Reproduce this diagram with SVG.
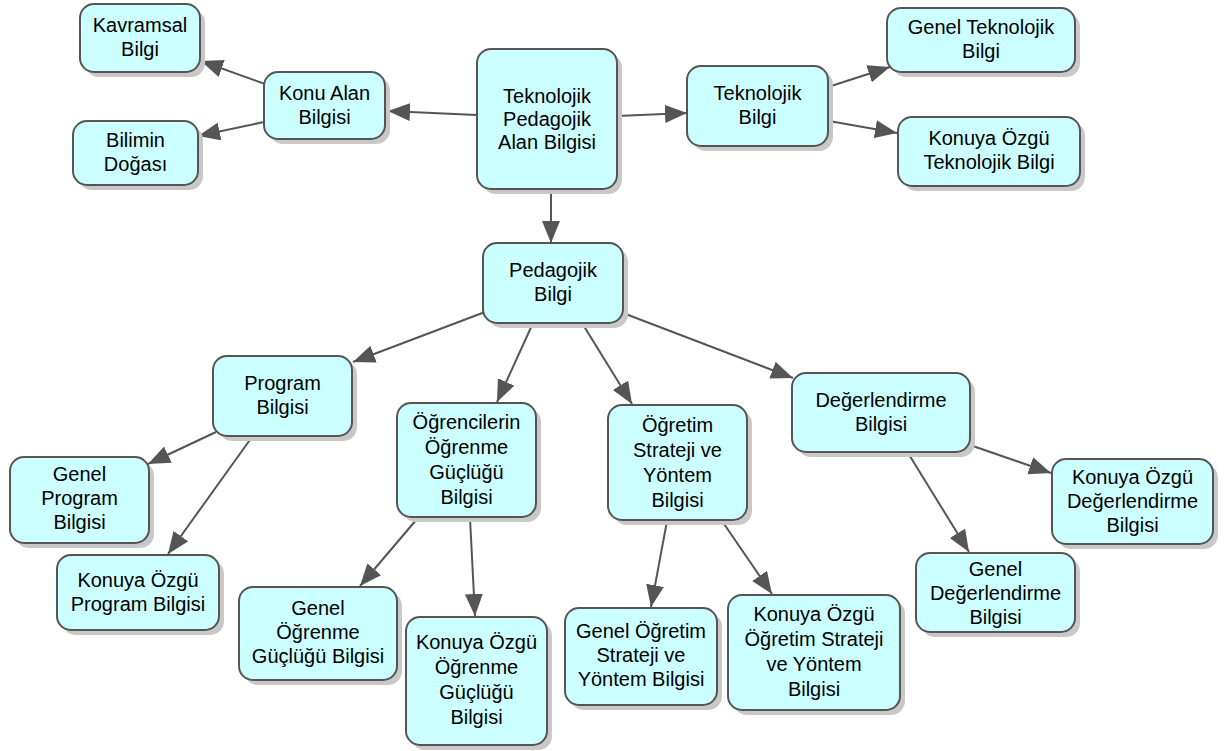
<svg xmlns="http://www.w3.org/2000/svg" width="1224" height="751" viewBox="0 0 1224 751">
  <defs>
    <style>
      .box { fill: #CCFFFF; stroke: #555555; stroke-width: 2; }
      .shadow { fill: #c8c8c8; }
      .lbl { font-family: "Liberation Sans", Arial, sans-serif; font-size: 20px; fill: #000000; text-anchor: middle; }
      .edge { stroke: #555555; stroke-width: 2; fill: none; marker-end: url(#arrow); }
    </style>
    <marker id="arrow" markerUnits="userSpaceOnUse" markerWidth="23" markerHeight="19" refX="22" refY="9" orient="auto">
      <path d="M0,0 L22,9 L0,18 Z" fill="#555555"/>
    </marker>
  </defs>
  <rect width="1224" height="751" fill="#ffffff"/>

  <!-- connectors -->
  <g id="connectors">
    <line class="edge" x1="477" y1="115" x2="388" y2="111"/>
    <line class="edge" x1="265" y1="84" x2="201" y2="61"/>
    <line class="edge" x1="264" y1="122" x2="198" y2="136"/>
    <line class="edge" x1="617" y1="116" x2="687" y2="113"/>
    <line class="edge" x1="828" y1="87" x2="890" y2="67"/>
    <line class="edge" x1="829" y1="121" x2="897" y2="133"/>
    <line class="edge" x1="551" y1="189" x2="551" y2="243"/>
    <line class="edge" x1="485" y1="312" x2="353" y2="362"/>
    <line class="edge" x1="533" y1="323" x2="497" y2="402"/>
    <line class="edge" x1="582" y1="323" x2="632" y2="404"/>
    <line class="edge" x1="623" y1="313" x2="793" y2="378"/>
    <line class="edge" x1="216" y1="432" x2="148" y2="464"/>
    <line class="edge" x1="252" y1="437" x2="168" y2="554"/>
    <line class="edge" x1="417" y1="519" x2="360" y2="586"/>
    <line class="edge" x1="470" y1="518" x2="475" y2="616"/>
    <line class="edge" x1="667" y1="521" x2="651" y2="607"/>
    <line class="edge" x1="722" y1="521" x2="772" y2="594"/>
    <line class="edge" x1="970" y1="445" x2="1051" y2="473"/>
    <line class="edge" x1="908" y1="453" x2="969" y2="552"/>
  </g>

  <!-- nodes -->
  <g id="tpab">
    <rect class="shadow" x="482" y="54" width="140" height="140" rx="14"/>
    <rect class="box" x="477" y="49" width="140" height="140" rx="14"/>
    <text class="lbl"><tspan x="547" y="103">Teknolojik</tspan><tspan x="547" y="126">Pedagojik</tspan><tspan x="547" y="149">Alan Bilgisi</tspan></text>
  </g>
  <g id="konu-alan">
    <rect class="shadow" x="269" y="77" width="121" height="67" rx="14"/>
    <rect class="box" x="264" y="72" width="121" height="67" rx="14"/>
    <text class="lbl"><tspan x="324.5" y="100">Konu Alan</tspan><tspan x="324.5" y="124">Bilgisi</tspan></text>
  </g>
  <g id="kavramsal">
    <rect class="shadow" x="85" y="9" width="120" height="68" rx="14"/>
    <rect class="box" x="80" y="4" width="120" height="68" rx="14"/>
    <text class="lbl"><tspan x="140" y="32">Kavramsal</tspan><tspan x="140" y="56">Bilgi</tspan></text>
  </g>
  <g id="bilimin">
    <rect class="shadow" x="78" y="126" width="125" height="64" rx="14"/>
    <rect class="box" x="73" y="121" width="125" height="64" rx="14"/>
    <text class="lbl"><tspan x="135.5" y="147">Bilimin</tspan><tspan x="135.5" y="171">Doğası</tspan></text>
  </g>
  <g id="teknolojik">
    <rect class="shadow" x="692" y="71" width="141" height="80" rx="14"/>
    <rect class="box" x="687" y="66" width="141" height="80" rx="14"/>
    <text class="lbl"><tspan x="757.5" y="100">Teknolojik</tspan><tspan x="757.5" y="124">Bilgi</tspan></text>
  </g>
  <g id="genel-teknolojik">
    <rect class="shadow" x="892" y="13" width="188" height="64" rx="14"/>
    <rect class="box" x="887" y="8" width="188" height="64" rx="14"/>
    <text class="lbl"><tspan x="981" y="34">Genel Teknolojik</tspan><tspan x="981" y="58">Bilgi</tspan></text>
  </g>
  <g id="ozgu-teknolojik">
    <rect class="shadow" x="903" y="122" width="182" height="69" rx="14"/>
    <rect class="box" x="898" y="117" width="182" height="69" rx="14"/>
    <text class="lbl"><tspan x="989" y="145">Konuya Özgü</tspan><tspan x="989" y="169">Teknolojik Bilgi</tspan></text>
  </g>
  <g id="pedagojik">
    <rect class="shadow" x="488" y="248" width="140" height="80" rx="14"/>
    <rect class="box" x="483" y="243" width="140" height="80" rx="14"/>
    <text class="lbl"><tspan x="553" y="277">Pedagojik</tspan><tspan x="553" y="301">Bilgi</tspan></text>
  </g>
  <g id="program">
    <rect class="shadow" x="218" y="361" width="139" height="80" rx="14"/>
    <rect class="box" x="213" y="356" width="139" height="80" rx="14"/>
    <text class="lbl"><tspan x="282.5" y="390">Program</tspan><tspan x="282.5" y="414">Bilgisi</tspan></text>
  </g>
  <g id="ogrenme-guclugu">
    <rect class="shadow" x="402" y="408" width="139" height="114" rx="14"/>
    <rect class="box" x="397" y="403" width="139" height="114" rx="14"/>
    <text class="lbl"><tspan x="466.5" y="429">Öğrencilerin</tspan><tspan x="466.5" y="454">Öğrenme</tspan><tspan x="466.5" y="479">Güçlüğü</tspan><tspan x="466.5" y="504">Bilgisi</tspan></text>
  </g>
  <g id="ogretim-strateji">
    <rect class="shadow" x="613" y="410" width="139" height="115" rx="14"/>
    <rect class="box" x="608" y="405" width="139" height="115" rx="14"/>
    <text class="lbl"><tspan x="677.5" y="432">Öğretim</tspan><tspan x="677.5" y="457">Strateji ve</tspan><tspan x="677.5" y="482">Yöntem</tspan><tspan x="677.5" y="507">Bilgisi</tspan></text>
  </g>
  <g id="degerlendirme">
    <rect class="shadow" x="797" y="378" width="178" height="79" rx="14"/>
    <rect class="box" x="792" y="373" width="178" height="79" rx="14"/>
    <text class="lbl"><tspan x="881" y="407">Değerlendirme</tspan><tspan x="881" y="431">Bilgisi</tspan></text>
  </g>
  <g id="genel-program">
    <rect class="shadow" x="15" y="462" width="139" height="86" rx="14"/>
    <rect class="box" x="10" y="457" width="139" height="86" rx="14"/>
    <text class="lbl"><tspan x="79.5" y="481">Genel</tspan><tspan x="79.5" y="505">Program</tspan><tspan x="79.5" y="529">Bilgisi</tspan></text>
  </g>
  <g id="ozgu-program">
    <rect class="shadow" x="62" y="560" width="162" height="75" rx="14"/>
    <rect class="box" x="57" y="555" width="162" height="75" rx="14"/>
    <text class="lbl"><tspan x="138" y="587">Konuya Özgü</tspan><tspan x="138" y="611">Program Bilgisi</tspan></text>
  </g>
  <g id="genel-ogrenme">
    <rect class="shadow" x="244" y="592" width="158" height="93" rx="14"/>
    <rect class="box" x="239" y="587" width="158" height="93" rx="14"/>
    <text class="lbl"><tspan x="318" y="615">Genel</tspan><tspan x="318" y="639">Öğrenme</tspan><tspan x="318" y="663">Güçlüğü Bilgisi</tspan></text>
  </g>
  <g id="ozgu-ogrenme">
    <rect class="shadow" x="411" y="622" width="141" height="128" rx="14"/>
    <rect class="box" x="406" y="617" width="141" height="128" rx="14"/>
    <text class="lbl"><tspan x="476.5" y="649">Konuya Özgü</tspan><tspan x="476.5" y="674">Öğrenme</tspan><tspan x="476.5" y="699">Güçlüğü</tspan><tspan x="476.5" y="724">Bilgisi</tspan></text>
  </g>
  <g id="genel-ogretim">
    <rect class="shadow" x="570" y="613" width="152" height="97" rx="14"/>
    <rect class="box" x="565" y="608" width="152" height="97" rx="14"/>
    <text class="lbl"><tspan x="641" y="638">Genel Öğretim</tspan><tspan x="641" y="662">Strateji ve</tspan><tspan x="641" y="686">Yöntem Bilgisi</tspan></text>
  </g>
  <g id="ozgu-ogretim">
    <rect class="shadow" x="733" y="600" width="172" height="115" rx="14"/>
    <rect class="box" x="728" y="595" width="172" height="115" rx="14"/>
    <text class="lbl"><tspan x="814" y="621">Konuya Özgü</tspan><tspan x="814" y="646">Öğretim Strateji</tspan><tspan x="814" y="671">ve Yöntem</tspan><tspan x="814" y="696">Bilgisi</tspan></text>
  </g>
  <g id="ozgu-degerlendirme">
    <rect class="shadow" x="1057" y="464" width="161" height="85" rx="14"/>
    <rect class="box" x="1052" y="459" width="161" height="85" rx="14"/>
    <text class="lbl"><tspan x="1132.5" y="484">Konuya Özgü</tspan><tspan x="1132.5" y="508">Değerlendirme</tspan><tspan x="1132.5" y="532">Bilgisi</tspan></text>
  </g>
  <g id="genel-degerlendirme">
    <rect class="shadow" x="921" y="558" width="159" height="79" rx="14"/>
    <rect class="box" x="916" y="553" width="159" height="79" rx="14"/>
    <text class="lbl"><tspan x="995.5" y="576">Genel</tspan><tspan x="995.5" y="600">Değerlendirme</tspan><tspan x="995.5" y="624">Bilgisi</tspan></text>
  </g>
</svg>
